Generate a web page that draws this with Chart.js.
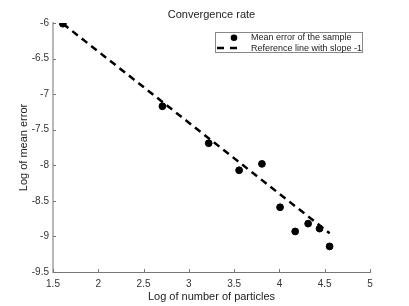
<!DOCTYPE html>
<html>
<head>
<meta charset="utf-8">
<script src="https://cdn.jsdelivr.net/npm/chart.js@4/dist/chart.umd.min.js"></script>
<style>
  html, body { margin: 0; padding: 0; background: #fff; }
  #c { display: block; }
</style>
</head>
<body>
<canvas id="c" width="409" height="306"></canvas>
<script>
// log of number of particles vs log of mean error
const logParticles = [1.609, 2.708, 3.219, 3.555, 3.807, 4.007, 4.174, 4.317, 4.443, 4.554];
const logError = [-6.01, -7.17, -7.69, -8.07, -7.98, -8.59, -8.93, -8.82, -8.89, -9.14];

// reference line with slope -1 (end points)
const refX = [1.609, 4.554];
const refY = [-6.01, -8.955];

const xTicks = [1.5, 2, 2.5, 3, 3.5, 4, 4.5, 5];
const yTicks = [-9.5, -9, -8.5, -8, -7.5, -7, -6.5, -6];

const FONT = '"Liberation Sans", Arial, sans-serif';

const decor = {
  id: 'decor',
  afterDraw(chart) {
    const ctx = chart.ctx;
    const a = chart.chartArea;
    const xs = chart.scales.x, ys = chart.scales.y;
    ctx.save();

    // inward tick marks
    ctx.strokeStyle = '#777';
    ctx.lineWidth = 1;
    ctx.beginPath();
    xTicks.forEach(v => {
      const px = Math.round(xs.getPixelForValue(v)) + 0.5;
      ctx.moveTo(px, a.bottom);
      ctx.lineTo(px, a.bottom - 3);
    });
    yTicks.forEach(v => {
      const py = Math.round(ys.getPixelForValue(v)) + 0.5;
      ctx.moveTo(a.left, py);
      ctx.lineTo(a.left + 3, py);
    });
    ctx.stroke();

    // titles
    ctx.fillStyle = '#222';
    ctx.textAlign = 'center';
    ctx.textBaseline = 'middle';
    ctx.font = '11px ' + FONT;
    ctx.fillText('Convergence rate', (a.left + a.right) / 2, 15);
    ctx.fillText('Log of number of particles', (a.left + a.right) / 2, 297);
    ctx.save();
    ctx.translate(24, (a.top + a.bottom) / 2);
    ctx.rotate(-Math.PI / 2);
    ctx.fillText('Log of mean error', 0, 0);
    ctx.restore();

    // legend
    ctx.fillStyle = '#fff';
    ctx.fillRect(215.5, 32.5, 147, 20);
    ctx.strokeStyle = '#888';
    ctx.lineWidth = 1;
    ctx.strokeRect(215.5, 32.5, 147, 20);

    ctx.fillStyle = '#000';
    ctx.beginPath();
    ctx.arc(234, 37.7, 3.3, 0, Math.PI * 2);
    ctx.fill();

    ctx.strokeStyle = '#000';
    ctx.lineWidth = 2.5;
    ctx.setLineDash([7, 6]);
    ctx.beginPath();
    ctx.moveTo(217, 48);
    ctx.lineTo(237, 48);
    ctx.stroke();
    ctx.setLineDash([]);

    ctx.fillStyle = '#222';
    ctx.textAlign = 'left';
    ctx.font = '9px ' + FONT;
    ctx.fillText('Mean error of the sample', 251, 38);
    ctx.fillText('Reference line with slope -1', 251, 48.5);

    ctx.restore();
  }
};

new Chart(document.getElementById('c'), {
  type: 'scatter',
  data: {
    datasets: [
      {
        label: 'Mean error of the sample',
        data: logParticles.map((x, i) => ({ x: x, y: logError[i] })),
        backgroundColor: '#000',
        borderColor: '#000',
        pointRadius: 3.4,
        pointHoverRadius: 3.4,
        showLine: false
      },
      {
        label: 'Reference line with slope -1',
        data: refX.map((x, i) => ({ x: x, y: refY[i] })),
        borderColor: '#000',
        borderWidth: 2.5,
        borderDash: [7, 5],
        pointRadius: 0,
        showLine: true,
        fill: false
      }
    ]
  },
  options: {
    responsive: false,
    animation: false,
    layout: { padding: { top: 23, right: 39, left: 0, bottom: 0 } },
    plugins: {
      legend: { display: false },
      tooltip: { enabled: false },
      title: { display: false }
    },
    scales: {
      x: {
        type: 'linear',
        min: 1.5,
        max: 5,
        afterFit: s => { s.height = 34; },
        afterBuildTicks: s => { s.ticks = xTicks.map(v => ({ value: v })); },
        grid: { display: false, drawTicks: false, tickLength: 0 },
        border: { display: true, color: '#777', width: 1 },
        ticks: {
          padding: 6,
          color: '#333',
          font: { family: FONT, size: 10 },
          maxRotation: 0,
          callback: v => String(v)
        }
      },
      y: {
        type: 'linear',
        min: -9.5,
        max: -6,
        afterFit: s => { s.width = 53; },
        afterBuildTicks: s => { s.ticks = yTicks.map(v => ({ value: v })); },
        grid: { display: false, drawTicks: false, tickLength: 0 },
        border: { display: true, color: '#b8b8b8', width: 2 },
        ticks: {
          padding: 4,
          color: '#333',
          font: { family: FONT, size: 10 },
          callback: v => String(v)
        }
      }
    }
  },
  plugins: [decor]
});
</script>
</body>
</html>
